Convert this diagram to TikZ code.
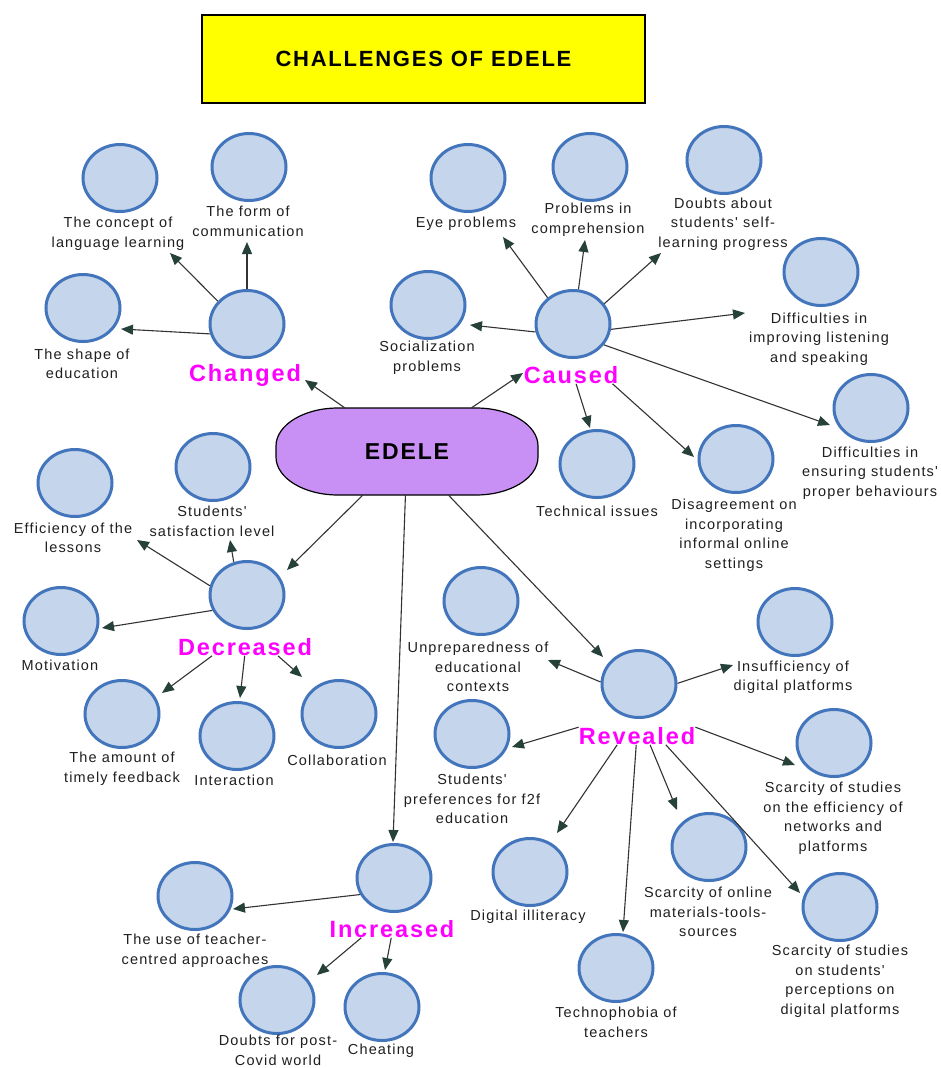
\documentclass[tikz,border=0pt]{standalone}
\usepackage{fontspec}
\setmainfont{Liberation Sans}
\newfontfamily\labfont[LetterSpace=8]{Liberation Sans}
\usetikzlibrary{shapes.geometric,arrows.meta}
\definecolor{bubfill}{HTML}{C5D5EB}
\definecolor{bubline}{HTML}{4275BB}
\definecolor{arrcol}{HTML}{26403A}
\definecolor{linecol}{HTML}{333333}
\definecolor{edelefill}{HTML}{C88FF5}
\definecolor{mag}{HTML}{FF00FF}
\definecolor{titlefill}{HTML}{FFFF00}
\begin{document}
\begin{tikzpicture}[x=1pt,y=-1pt,
  bub/.style={ellipse, draw=bubline, line width=3pt, fill=bubfill, minimum width=74pt, minimum height=67pt, inner sep=0pt},
  lbl/.style={font=\labfont\fontsize{14.5}{19.5}\selectfont, align=center, inner sep=0pt, text=black!88},
  hub/.style={font=\labfont\bfseries\fontsize{23.5}{26}\selectfont, text=mag, inner sep=0pt},
  arr/.style={draw=linecol, line width=1.1pt, -{Triangle[length=12pt,width=10pt,color=arrcol]}}]
\useasboundingbox (0,0) rectangle (940,1068);
\fill[white] (0,0) rectangle (940,1068);

% title
\node[draw=black, line width=1.5pt, fill=titlefill, minimum width=443pt, minimum height=88pt, inner sep=0pt,
  font=\labfont\bfseries\fontsize{22}{26}\selectfont] (title) at (423.5,59) {CHALLENGES OF EDELE};

% central shape (rectangle with elliptical corners)
\draw[line width=1.2pt, fill=edelefill]
  (276,446) .. controls (276,425) and (303.8,408) .. (338,408)
  -- (476,408) .. controls (510.2,408) and (538,425) .. (538,446)
  -- (538,457) .. controls (538,478) and (510.2,495) .. (476,495)
  -- (338,495) .. controls (303.8,495) and (276,478) .. (276,457) -- cycle;
\node[minimum width=262pt, minimum height=87pt, inner sep=0pt,
  font=\labfont\bfseries\fontsize{23}{26}\selectfont] (edele) at (407,451.5) {EDELE};

% ---------- Changed
\node[bub] (c_concept) at (120,178) {};
\node[bub] (c_form) at (249,167) {};
\node[bub] (c_shape) at (83,308) {};
\node[bub] (h_changed) at (247,324) {};
\node[lbl] (l_concept) at (118,233.5) {The concept of\\language learning};
\node[lbl] (l_form) at (248,221.5) {The form of\\communication};
\node[lbl] (l_shape) at (82,364) {The shape of\\education};
\node[hub] (l_changed) at (245,375) {Changed};

% ---------- Caused
\node[bub] (c_eye) at (468,178) {};
\node[bub] (c_comp) at (590,167) {};
\node[bub] (c_doubts) at (724,160) {};
\node[bub] (c_listen) at (821,272) {};
\node[bub] (c_social) at (428,305) {};
\node[bub] (h_caused) at (573,324) {};
\node[bub] (c_ensure) at (871,408) {};
\node[bub] (c_tech) at (597,464) {};
\node[bub] (c_disagree) at (736,459) {};
\node[lbl] (l_eye) at (466,224) {Eye problems};
\node[lbl] (l_comp) at (588,219.5) {Problems in\\comprehension};
\node[lbl] (l_doubts) at (723,224) {Doubts about\\students' self-\\learning progress};
\node[lbl] (l_listen) at (819,339) {Difficulties in\\improving listening\\and speaking};
\node[lbl] (l_social) at (427,357.5) {Socialization\\problems};
\node[hub] (l_caused) at (571,375) {Caused};
\node[lbl] (l_ensure) at (870,473) {Difficulties in\\ensuring students'\\proper behaviours};
\node[lbl] (l_tech) at (597,511) {Technical issues};
\node[lbl] (l_disagree) at (734,535) {Disagreement on\\incorporating\\informal online\\settings};

% ---------- Decreased
\node[bub] (c_eff) at (75,483) {};
\node[bub] (c_sat) at (213,467) {};
\node[bub] (c_mot) at (61,621) {};
\node[bub] (h_dec) at (247,595) {};
\node[bub] (c_feed) at (122,714) {};
\node[bub] (c_inter) at (237,736) {};
\node[bub] (c_collab) at (339,714) {};
\node[lbl] (l_eff) at (73,538) {Efficiency of the\\lessons};
\node[lbl] (l_sat) at (212,521.5) {Students'\\satisfaction level};
\node[lbl] (l_mot) at (60,665) {Motivation};
\node[hub] (l_dec) at (245,647) {Decreased};
\node[lbl] (l_feed) at (122,768.5) {The amount of\\timely feedback};
\node[lbl] (l_inter) at (234,780) {Interaction};
\node[lbl] (l_collab) at (337,760) {Collaboration};

% ---------- Revealed
\node[bub] (c_unprep) at (481,601) {};
\node[bub] (c_insuff) at (795,622) {};
\node[bub] (h_rev) at (639,684) {};
\node[bub] (c_prefs) at (472,734) {};
\node[bub] (c_scarce1) at (834,743) {};
\node[bub] (c_digital) at (530,872) {};
\node[bub] (c_scarce2) at (709,847) {};
\node[bub] (c_techno) at (616,968) {};
\node[bub] (c_scarce3) at (840,907) {};
\node[lbl] (l_unprep) at (478,667) {Unpreparedness of\\educational\\contexts};
\node[lbl] (l_insuff) at (793,677) {Insufficiency of\\digital platforms};
\node[hub] (l_rev) at (637,736) {Revealed};
\node[lbl] (l_prefs) at (472,799) {Students'\\preferences for f2f\\education};
\node[lbl] (l_scarce1) at (833,818) {Scarcity of studies\\on the efficiency of\\networks and\\platforms};
\node[lbl] (l_digital) at (528,917) {Digital illiteracy};
\node[lbl] (l_scarce2) at (708,912) {Scarcity of online\\materials-tools-\\sources};
\node[lbl] (l_techno) at (616,1022.5) {Technophobia of\\teachers};
\node[lbl] (l_scarce3) at (840,981) {Scarcity of studies\\on students'\\perceptions on\\digital platforms};

% ---------- Increased
\node[bub] (h_inc) at (394,878) {};
\node[bub] (c_teacher) at (195,896) {};
\node[bub] (c_covid) at (277,1000) {};
\node[bub] (c_cheat) at (382,1007) {};
\node[hub] (l_inc) at (392,929) {Increased};
\node[lbl] (l_teacher) at (195,950.5) {The use of teacher-\\centred approaches};
\node[lbl] (l_covid) at (278,1050.5) {Doubts for post-\\Covid world};
\node[lbl] (l_cheat) at (381,1051) {Cheating};

% ---------- arrow tips
\coordinate (t_changed) at (305,380);
\coordinate (t_concept) at (170,253);
\coordinate (t_form) at (247,242);
\coordinate (t_shape) at (121,329);
\coordinate (t_caused) at (523,373);
\coordinate (t_eye) at (503,237);
\coordinate (t_comp) at (585,240);
\coordinate (t_doubts) at (661,253);
\coordinate (t_social) at (470,325);
\coordinate (t_listen) at (745,313);
\coordinate (t_ensure) at (830,425);
\coordinate (t_tech) at (590,428);
\coordinate (t_disagree) at (694,457);
\coordinate (t_dec) at (287,570);
\coordinate (t_eff) at (137,540);
\coordinate (t_sat) at (230,540);
\coordinate (t_mot) at (102,628);
\coordinate (t_feed) at (162,693);
\coordinate (t_inter) at (240,698);
\coordinate (t_collab) at (302,677);
\coordinate (t_rev) at (603,657);
\coordinate (t_unprep) at (548,660);
\coordinate (t_insuff) at (733,665);
\coordinate (t_prefs) at (512,747);
\coordinate (t_scarce1) at (795,765);
\coordinate (t_digital) at (557,833);
\coordinate (t_techno) at (623,932);
\coordinate (t_scarce2) at (677,810);
\coordinate (t_scarce3) at (800,893);
\coordinate (t_inc) at (393,842);
\coordinate (t_teacher) at (233,909);
\coordinate (t_covid) at (317,975);
\coordinate (t_cheat) at (385,970);

% ---------- connectors
\draw[arr] (edele) -- (t_changed);
\draw[arr] (h_changed.142) -- (t_concept);
\draw[arr] (h_changed.90) -- (t_form);
\draw[arr] (h_changed.195) -- (t_shape);

\draw[arr] (edele) -- (t_caused);
\draw[arr] (h_caused.134) -- (t_eye);
\draw[arr] (h_caused.81) -- (t_comp);
\draw[arr] (h_caused.33) -- (t_doubts);
\draw[arr] (h_caused.192) -- (t_social);
\draw[arr] (h_caused.-8) -- (t_listen);
\draw[arr] (h_caused.-34) -- (t_ensure);
\draw[arr] (l_caused.-60) -- (t_tech);
\draw[arr] (l_caused.-12) -- (t_disagree);

\draw[arr] (edele) -- (t_dec);
\draw[arr] (h_dec.166) -- (t_eff);
\draw[arr] (h_dec.112) -- (t_sat);
\draw[arr] (h_dec.204) -- (t_mot);
\draw[arr] (l_dec.195) -- (t_feed);
\draw[arr] (l_dec.-92) -- (t_inter);
\draw[arr] (l_dec.-15) -- (t_collab);

\draw[arr] (edele) -- (t_rev);
\draw[arr] (h_rev.177) -- (t_unprep);
\draw[arr] (h_rev.1) -- (t_insuff);
\draw[arr] (l_rev.north west) -- (t_prefs);
\draw[arr] (l_rev.north east) -- (t_scarce1);
\draw[arr] (l_rev.-156) -- (t_digital);
\draw[arr] (l_rev.-95) -- (t_techno);
\draw[arr] (l_rev.-34) -- (t_scarce2);
\draw[arr] (l_rev.-17) -- (t_scarce3);

\draw[arr] (edele) -- (t_inc);
\draw[arr] (h_inc.206) -- (t_teacher);
\draw[arr] (l_inc.196) -- (t_covid);
\draw[arr] (l_inc.-95) -- (t_cheat);
\end{tikzpicture}
\end{document}
